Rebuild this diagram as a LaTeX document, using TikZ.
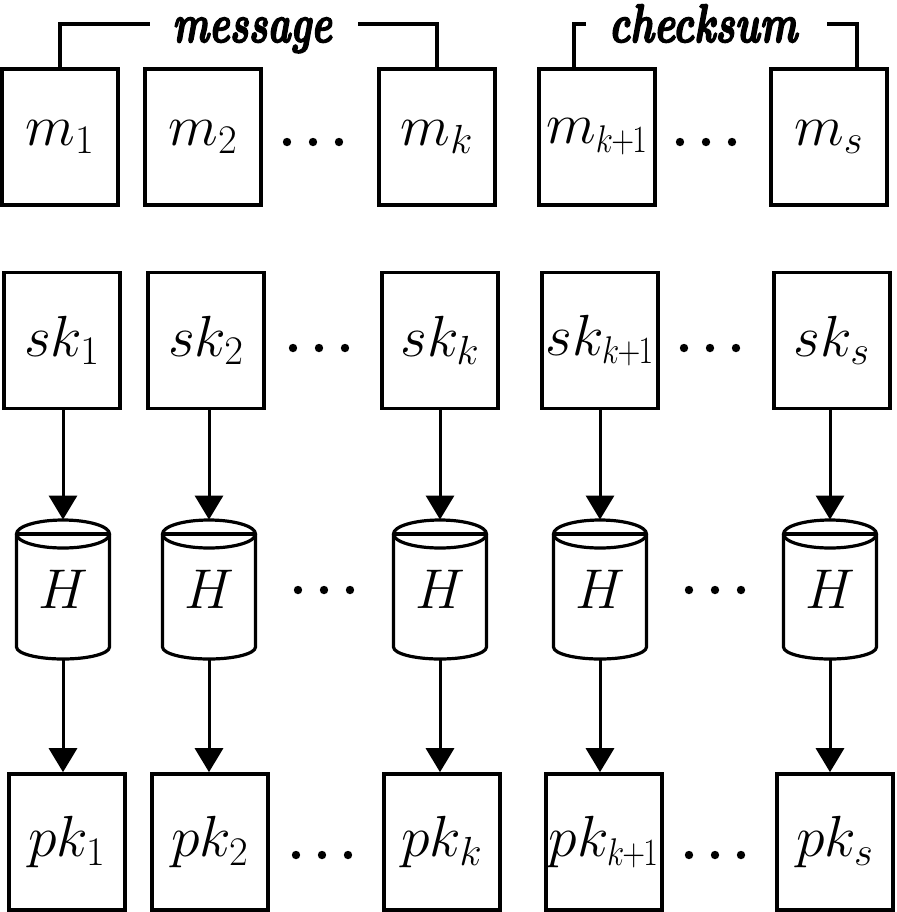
\RequirePackage{fix-cm}
\documentclass[tikz,border=0pt]{standalone}
\usetikzlibrary{arrows.meta}
\newcommand\kpo{\scalebox{0.78}[0.95]{$\scriptstyle k\mkern-1mu+\mkern-1mu1$}}
\newcommand\boldlbl[1]{\fontsize{27}{30}\selectfont\fontseries{bx}\fontshape{it}\selectfont\special{pdf:literal direct 2 Tr 0.9 w}#1\special{pdf:literal direct 0 Tr}}
\begin{document}
\begin{tikzpicture}[x=0.5pt,y=-0.5pt,
  box/.style={draw,line width=1.8pt,minimum width=58pt,minimum height=68pt,inner sep=0pt,font=\fontsize{29}{32}\selectfont},
  hnode/.style={minimum width=46.5pt,minimum height=69.5pt,inner sep=0pt,font=\fontsize{28}{30}\selectfont},
  cyl/.style={line width=1.6pt},
  arr/.style={line width=1.5pt,-{Triangle[width=14pt,length=12pt]}},
  brk/.style={line width=1.6pt},
  lbl/.style={anchor=base,inner sep=0pt},
  dot/.style={fill=black}]
\useasboundingbox (0,0) rectangle (896,912);
% message row
\node[box] (m1) at (60,137) {$m_1$};
\node[box] (m2) at (203,137) {$m_2$};
\node[box] (m3) at (437,137) {$m_k$};
\node[box] (m4) at (597,137) {$m_{\kpo}$};
\node[box] (m5) at (829,137) {$m_s$};
% sk row
\node[box] (s1) at (62,340.5) {$sk_1$};
\node[box] (s2) at (206,340.5) {$sk_2$};
\node[box] (s3) at (440,340.5) {$sk_k$};
\node[box] (s4) at (600,340.5) {$sk_{\kpo}$};
\node[box] (s5) at (832,340.5) {$sk_s$};
% pk row
\node[box] (p1) at (67,842) {$pk_1$};
\node[box] (p2) at (210,842) {$pk_2$};
\node[box] (p3) at (442,842) {$pk_k$};
\node[box] (p4) at (604,842) {$pk_{\kpo}$};
\node[box] (p5) at (835,842) {$pk_s$};
% hash cylinders
\foreach \i/\x in {1/63,2/209,3/440,4/600,5/830}{
  \node[hnode] (h\i) at (\x,589.5) {$H$};
  \draw[cyl] (\x,534) ellipse [x radius=23.25pt, y radius=7pt];
  \draw[cyl] (\x-46.5,534) -- (\x+46.5,534);
  \draw[cyl] (\x-46.5,534) -- (\x-46.5,647)
     arc[start angle=180, end angle=360, x radius=23.25pt, y radius=6pt]
     -- (\x+46.5,534);
}
% arrows
\foreach \i in {1,...,5}{
  \draw[arr] (h\i.north |- s\i.south) -- (h\i.north);
  \draw[arr] (h\i.south) -- (h\i.south |- p\i.north);
}
% brackets and labels
\node[lbl] (msg) at (252,42) {\scalebox{0.72}[1]{\boldlbl{message}}};
\node[lbl] (chk) at (703,42) {\scalebox{0.74}[1]{\boldlbl{checksum}}};
\coordinate (ml) at (150,24);
\coordinate (mr) at (358,24);
\coordinate (cl) at (586,24);
\coordinate (cr) at (827,24);
\draw[brk] (m1.north) |- (ml);
\draw[brk] (m3.north) |- (mr);
\draw[brk] (m4.north -| 574,0) |- (cl);
\draw[brk] (m5.north -| 857,0) |- (cr);
% dots
\foreach \y/\xa/\xb in {142/313/706, 348/319/710, 590/324/715, 855/322/715}{
  \foreach \d in {-26,0,26}{
    \fill[dot] (\xa+\d,\y) circle (2.1pt);
    \fill[dot] (\xb+\d,\y) circle (2.1pt);
  }
}
\end{tikzpicture}
\end{document}
